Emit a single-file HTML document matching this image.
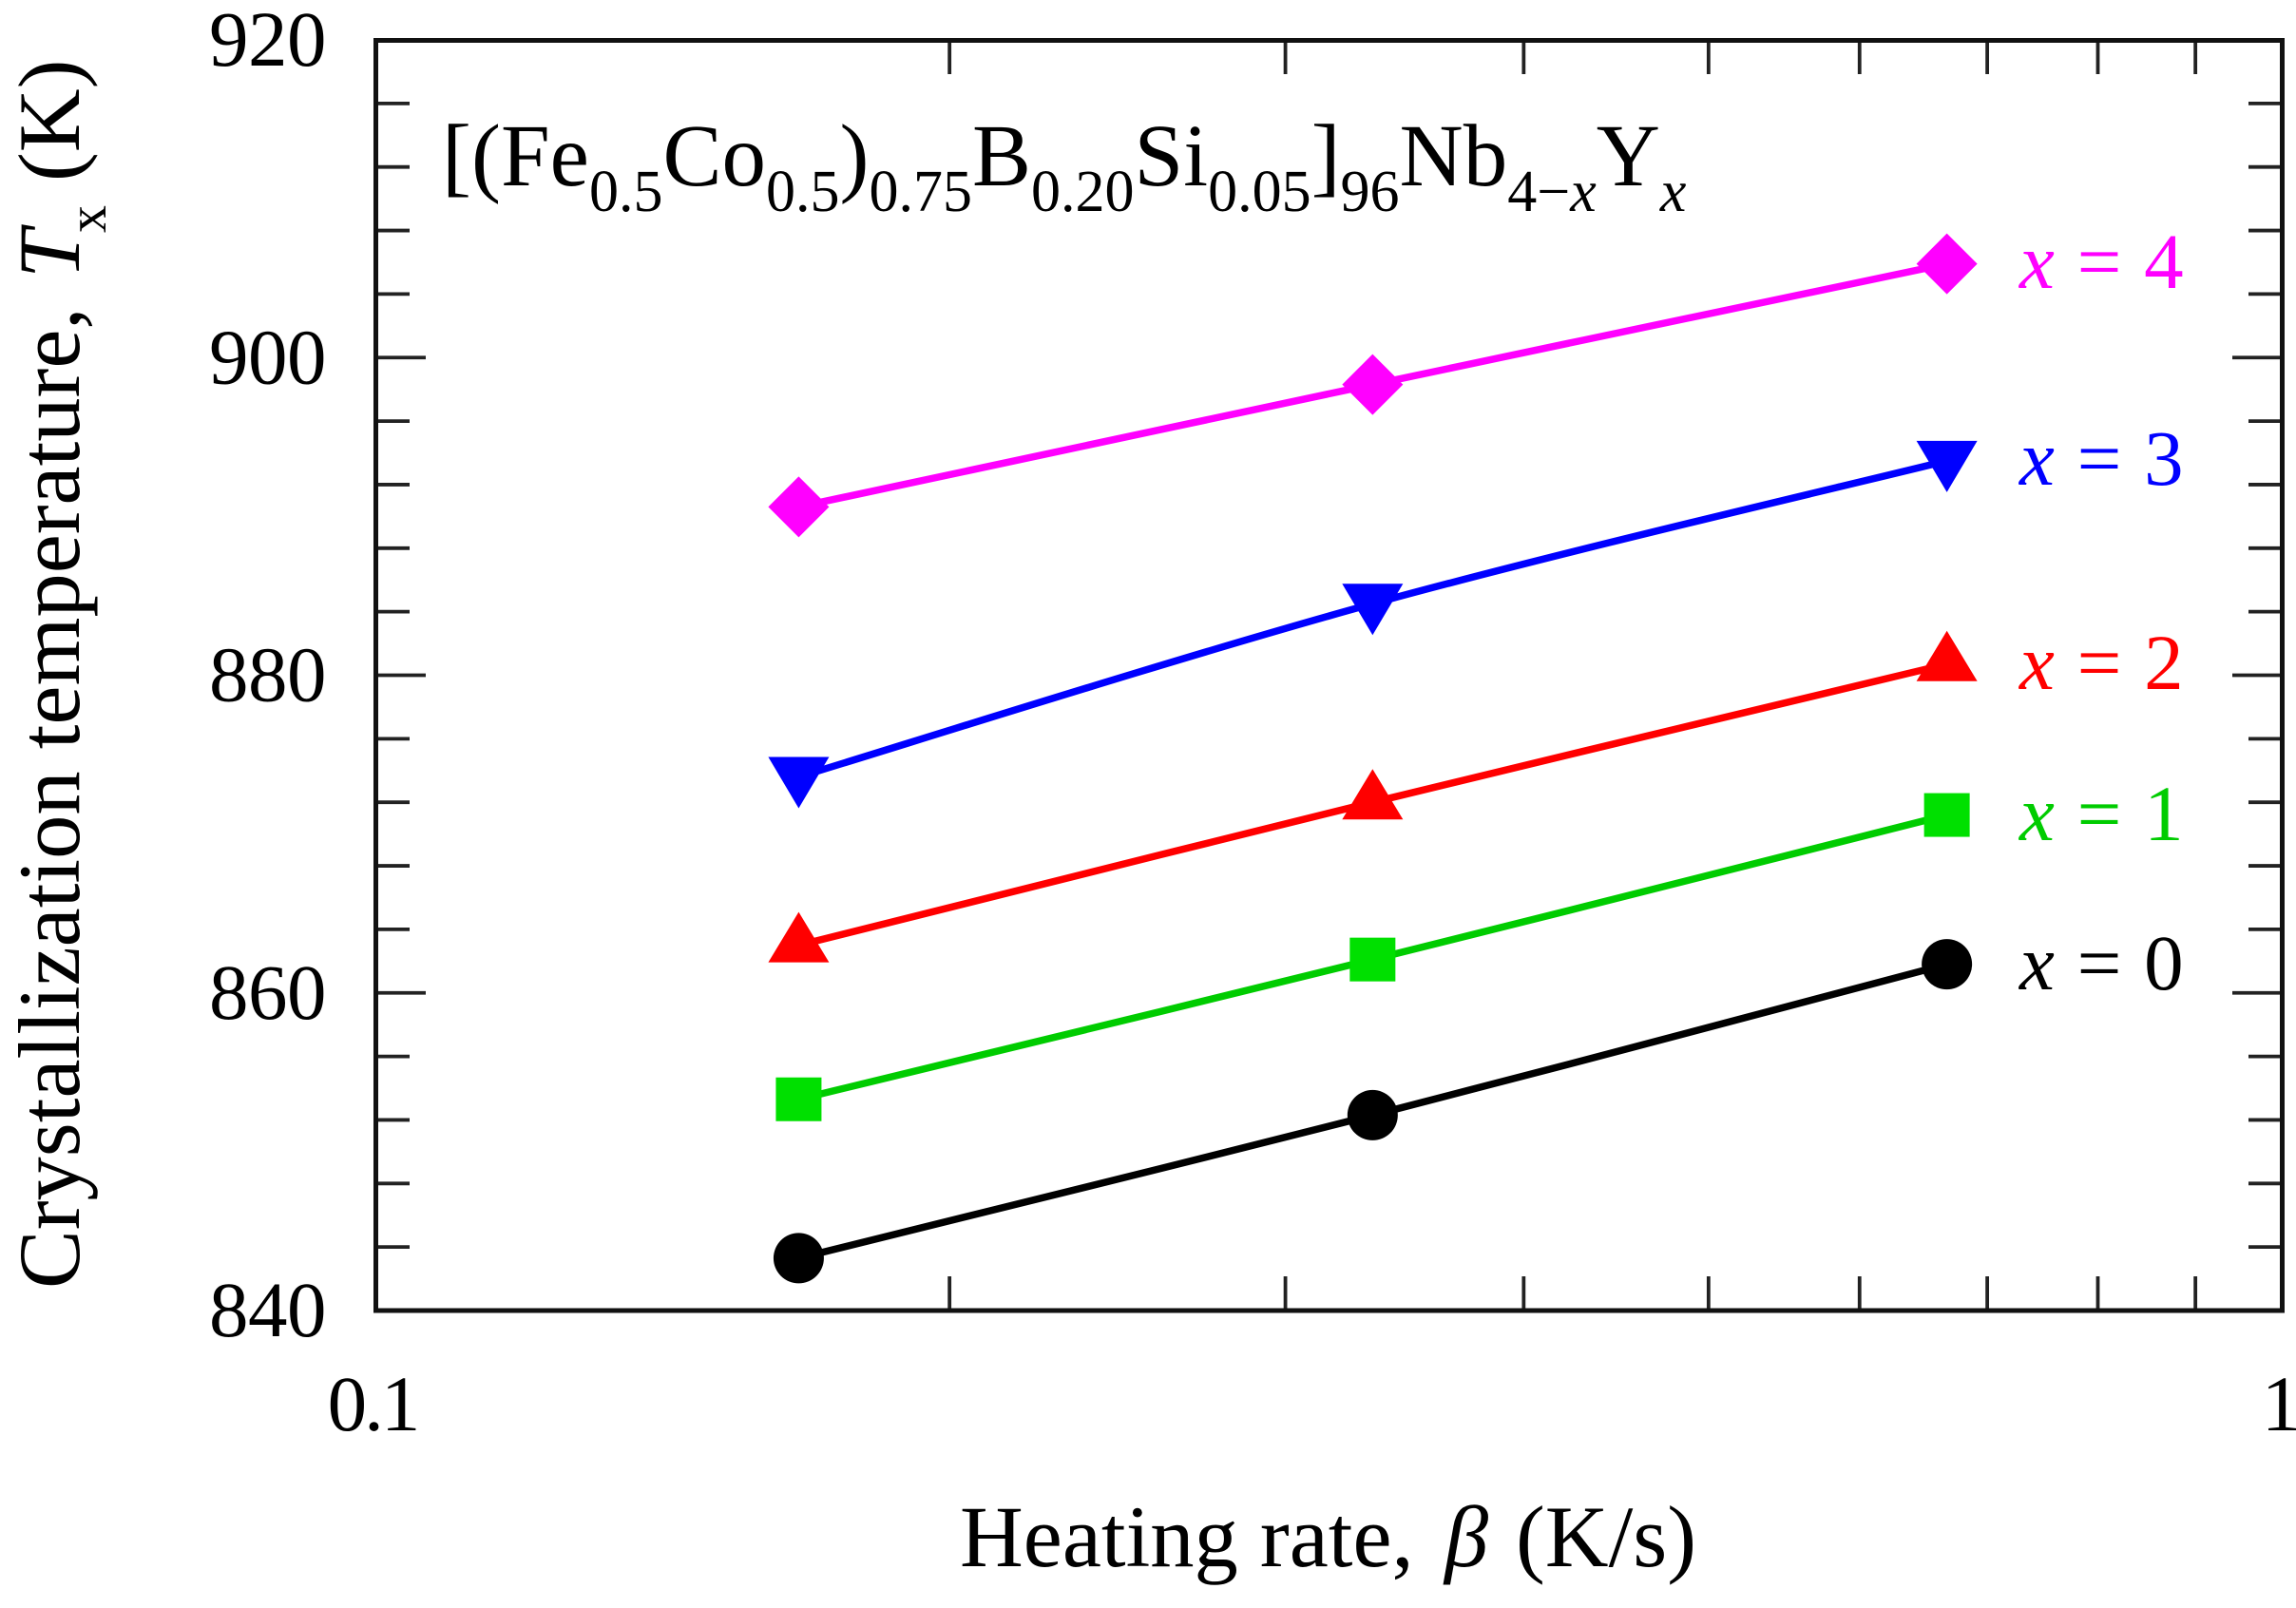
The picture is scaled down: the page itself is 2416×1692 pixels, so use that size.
<!DOCTYPE html>
<html lang="en">
<head>
<meta charset="utf-8">
<title>Crystallization temperature vs heating rate</title>
<style>
html,body{margin:0;padding:0;background:#fff;width:2416px;height:1692px;overflow:hidden}
svg{display:block}
text{font-family:"Liberation Serif","Times New Roman",serif;fill:#000}
</style>
</head>
<body>
<svg id="chart" xmlns="http://www.w3.org/2000/svg" width="2416" height="1692" viewBox="0 0 2416 1692">
  <rect x="0" y="0" width="2416" height="1692" fill="#fff"/>
  <g id="ticks"></g>
  <rect x="395.5" y="42.5" width="2006" height="1336.5" fill="none" stroke="#111" stroke-width="5"/>
  <g id="series"></g>
  <g id="tick-labels"></g>
  <text x="465" y="195" font-size="93">[(Fe<tspan font-size="62" dy="27">0.5</tspan><tspan dy="-27">Co</tspan><tspan font-size="62" dy="27">0.5</tspan><tspan dy="-27">)</tspan><tspan font-size="62" dy="27">0.75</tspan><tspan dy="-27">B</tspan><tspan font-size="62" dy="27">0.20</tspan><tspan dy="-27">Si</tspan><tspan font-size="62" dy="27">0.05</tspan><tspan dy="-27">]</tspan><tspan font-size="62" dy="27">96</tspan><tspan dy="-27">Nb</tspan><tspan font-size="62" dy="27">4−</tspan><tspan font-size="62" font-style="italic">x</tspan><tspan dy="-27">Y</tspan><tspan font-size="62" font-style="italic" dy="27">x</tspan></text>
  <text x="1010" y="1648" font-size="92.5">Heating rate, <tspan font-style="italic" x="1520">β</tspan><tspan x="1595">(K/s)</tspan></text>
  <text transform="translate(83 1356) rotate(-90)" x="0" y="0" font-size="92.5">Crystallization temperature, <tspan font-style="italic" x="1063">T</tspan><tspan font-size="58" x="1111" dy="28">x</tspan><tspan x="1165" dy="-28">(K)</tspan></text>
</svg>
<script>
const heatingRates = [0.1667, 0.3333, 0.6667];
const xValues = ["x = 0", "x = 1", "x = 2", "x = 3", "x = 4"];
const tempsX0 = [843.3, 852.3, 861.8];
const tempsX1 = [853.3, 862.1, 871.2];
const tempsX2 = [863.0, 872.0, 880.7];
const tempsX3 = [873.6, 884.5, 893.5];
const tempsX4 = [890.6, 898.3, 905.9];
const yTickLabels = [840, 860, 880, 900, 920];
const yMinorTicks = [844, 848, 852, 856, 864, 868, 872, 876, 884, 888, 892, 896, 904, 908, 912, 916];
const xTickValues = [0.2, 0.3, 0.4, 0.5, 0.6, 0.7, 0.8, 0.9];
const xTickLabels = [0.1, 1];

const plotLeft = 395, plotRight = 2402, plotTop = 42, plotBottom = 1379;
const svgNS = 'http://www.w3.org/2000/svg';
function xScale(v) { return plotLeft + (Math.log10(v) + 1) * (plotRight - plotLeft); }
function yScale(v) { return plotBottom - (v - 840) / 80 * (plotBottom - plotTop); }
function make(tag, attrs, parent) {
  const el = document.createElementNS(svgNS, tag);
  for (const k in attrs) el.setAttribute(k, attrs[k]);
  parent.appendChild(el);
  return el;
}

const tickGroup = document.getElementById('ticks');
const labelGroup = document.getElementById('tick-labels');
const seriesGroup = document.getElementById('series');

function drawTick(x1, y1, x2, y2, name) {
  const t = make('line', { x1: x1, y1: y1, x2: x2, y2: y2, stroke: '#222', 'stroke-width': 3.8 }, tickGroup);
  
  
}

yMinorTicks.forEach(function (v) {
  const y = yScale(v);
  drawTick(plotLeft, y, plotLeft + 36, y, 'y-minor-tick-left');
  drawTick(plotRight - 36, y, plotRight, y, 'y-minor-tick-right');
});
yTickLabels.forEach(function (v) {
  const y = yScale(v);
  drawTick(plotLeft, y, plotLeft + 53, y, 'y-major-tick-left');
  drawTick(plotRight - 53, y, plotRight, y, 'y-major-tick-right');
  const lab = make('text', { x: 343, y: y + 27, 'font-size': 83, 'text-anchor': 'end', 'letter-spacing': -0.5 }, labelGroup);
  lab.textContent = String(v);
  
  
});
xTickValues.forEach(function (v) {
  const x = xScale(v);
  drawTick(x, plotBottom, x, plotBottom - 36, 'x-tick-bottom');
  drawTick(x, plotTop, x, plotTop + 36, 'x-tick-top');
});
xTickLabels.forEach(function (v) {
  const lab = make('text', { x: xScale(v) - 3, y: 1505, 'font-size': 83, 'text-anchor': 'middle', 'letter-spacing': -3 }, labelGroup);
  lab.textContent = String(v);
  
  
});

function drawMarker(kind, cx, cy, color, parent) {
  let m;
  if (kind === 'circle') {
    m = make('circle', { cx: cx, cy: cy, r: 26.5, fill: color }, parent);
  } else if (kind === 'square') {
    m = make('rect', { x: cx - 24, y: cy - 23, width: 48, height: 46, fill: color }, parent);
  } else if (kind === 'up') {
    m = make('polygon', { points: [cx, cy - 35, cx + 32, cy + 18, cx - 32, cy + 18].join(' '), fill: color }, parent);
  } else if (kind === 'down') {
    m = make('polygon', { points: [cx - 32, cy - 21, cx + 32, cy - 21, cx, cy + 33].join(' '), fill: color }, parent);
  } else {
    m = make('polygon', { points: [cx, cy - 32, cx + 32, cy, cx, cy + 32, cx - 32, cy].join(' '), fill: color }, parent);
  }
  
  
}

function curvePath(p) {
  let d = 'M' + p[0][0] + ' ' + p[0][1];
  for (let i = 0; i < p.length - 1; i++) {
    const a = p[Math.max(i - 1, 0)], b = p[i], c = p[i + 1], e = p[Math.min(i + 2, p.length - 1)];
    d += ' C' + (b[0] + (c[0] - a[0]) / 6) + ' ' + (b[1] + (c[1] - a[1]) / 6) + ' ' +
      (c[0] - (e[0] - b[0]) / 6) + ' ' + (c[1] - (e[1] - b[1]) / 6) + ' ' + c[0] + ' ' + c[1];
  }
  return d;
}

function drawSeries(values, label, kind, lineColor, markerColor, labelY) {
  const g = make('g', {}, seriesGroup);
  
  
  const pts = values.map(function (v, i) { return [xScale(heatingRates[i]), yScale(v)]; });
  const line = make('path', { d: curvePath(pts), fill: 'none', stroke: lineColor, 'stroke-width': 7.5 }, g);
  
  
  values.forEach(function (v, i) {
    drawMarker(kind, xScale(heatingRates[i]), yScale(v), markerColor, g);
  });
  const text = make('text', { x: 2125, y: labelY, 'font-size': 83, 'word-spacing': 3, style: 'fill:' + lineColor }, g);
  
  
  const ital = make('tspan', { 'font-style': 'italic', style: 'fill:' + lineColor }, text);
  ital.textContent = label.charAt(0);
  const rest = make('tspan', { style: 'fill:' + lineColor }, text);
  rest.textContent = label.slice(1);
}

drawSeries(tempsX0, xValues[0], 'circle', '#000000', '#000000', 1041);
drawSeries(tempsX1, xValues[1], 'square', '#00cc00', '#00e000', 884);
drawSeries(tempsX2, xValues[2], 'up', '#ff0000', '#ff0000', 725);
drawSeries(tempsX3, xValues[3], 'down', '#0000ff', '#0000ff', 510);
drawSeries(tempsX4, xValues[4], 'diamond', '#ff00ff', '#ff00ff', 303);
</script>
</body>
</html>
